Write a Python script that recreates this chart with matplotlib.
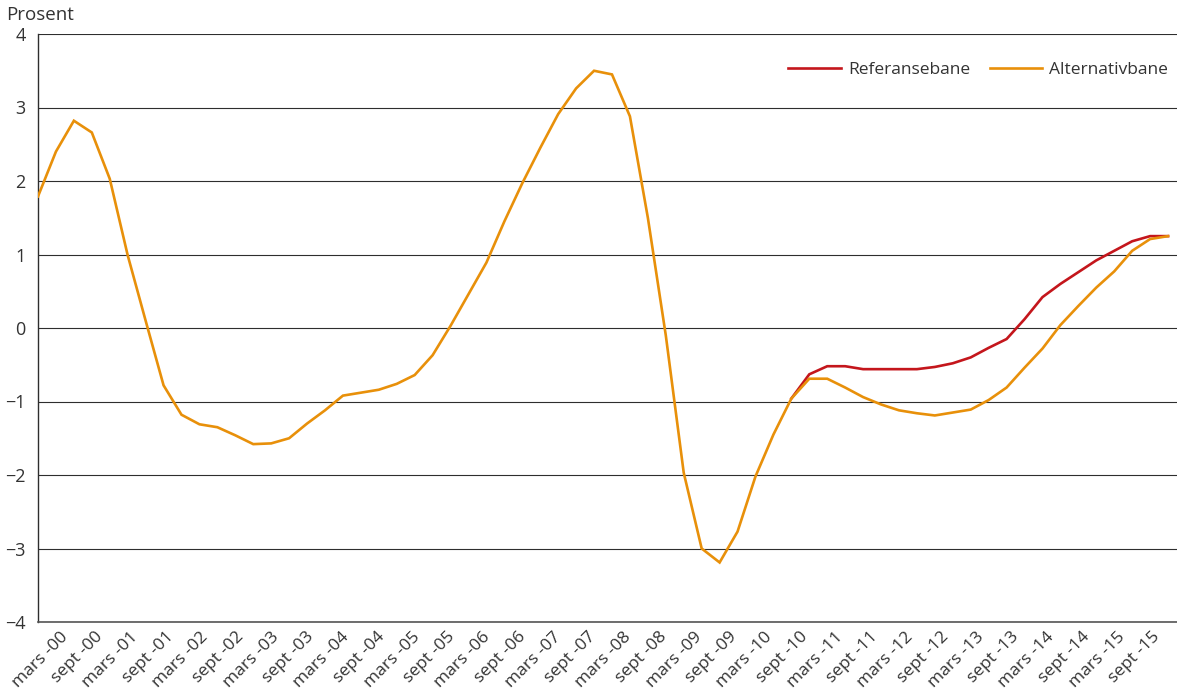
import matplotlib
matplotlib.use("Agg")
import matplotlib.pyplot as plt
import numpy as np

plt.rcParams["font.family"] = ["Open Sans", "DejaVu Sans"]

# Quarterly observations, 2000 Q1 - 2015 Q4
alternativbane = [
    1.79, 2.40, 2.82, 2.66, 2.03, 0.99, 0.10, -0.78,
    -1.18, -1.31, -1.35, -1.46, -1.58, -1.57, -1.50, -1.30,
    -1.12, -0.92, -0.88, -0.84, -0.76, -0.64, -0.37, 0.03,
    0.46, 0.89, 1.45, 1.97, 2.45, 2.91, 3.26, 3.50,
    3.45, 2.88, 1.50, -0.10, -1.97, -3.00, -3.19, -2.77,
    -2.02, -1.45, -0.96, -0.69, -0.69, -0.81, -0.94, -1.04,
    -1.12, -1.16, -1.19, -1.15, -1.11, -0.98, -0.81, -0.54,
    -0.28, 0.04, 0.30, 0.55, 0.77, 1.05, 1.21, 1.25,
]
# Reference path, 2010 Q3 - 2015 Q4
referansebane = [
    -0.96, -0.63, -0.52, -0.52, -0.56, -0.56, -0.56, -0.56,
    -0.53, -0.48, -0.40, -0.27, -0.15, 0.12, 0.42, 0.60,
    0.76, 0.92, 1.05, 1.18, 1.25, 1.25,
]
years = list(range(2000, 2016))
months = ["mars", "sept"]
tick_labels = [f"{m} -{y % 100:02d}" for y in years for m in months]
yticks = [-4, -3, -2, -1, 0, 1, 2, 3, 4]

RED = "#C4161C"
ORANGE = "#E8900A"
GRID = "#2e2e2e"
TEXT = "#333333"

n = len(alternativbane)
x_alt = np.arange(n)
x_ref = np.arange(n - len(referansebane), n)

fig = plt.figure(figsize=(11.77, 6.99), dpi=100)
ax = fig.add_axes([38 / 1177, 1 - 622 / 699, 1 - 38 / 1177, (622 - 34) / 699])

for y in yticks:
    ax.axhline(y, color=GRID, lw=0.8, zorder=1)

ax.plot(x_ref, referansebane, color=RED, lw=1.9, label="Referansebane",
        solid_joinstyle="miter", zorder=3)
ax.plot(x_alt, alternativbane, color=ORANGE, lw=1.9, label="Alternativbane",
        solid_joinstyle="miter", zorder=4)

ax.set_xlim(0, n - 1 + 0.5)
ax.set_ylim(-4, 4)
ax.set_yticks(yticks)
ax.set_yticklabels([f"{v}".replace("-", "\u2212") for v in yticks])

# category labels are spread slightly inward so the first one stays inside
label_pos = np.linspace(1.2, n - 1.9, len(tick_labels))
ax.set_xticks(label_pos)
ax.set_xticklabels(tick_labels, rotation=45, ha="right",
                   rotation_mode="anchor")

for s in ["top", "right"]:
    ax.spines[s].set_visible(False)
ax.spines["left"].set_color(GRID)
ax.spines["left"].set_linewidth(1.0)
ax.spines["bottom"].set_color("#555555")
ax.spines["bottom"].set_linewidth(1.2)

ax.tick_params(axis="both", length=0, colors=TEXT)
ax.tick_params(axis="y", pad=9, labelsize=13)
ax.tick_params(axis="x", pad=5, labelsize=12.5)

fig.text(6 / 1177, 1 - 15 / 699, "Prosent", fontsize=13.5, color=TEXT,
         va="center", ha="left")

leg = ax.legend(loc="upper right", bbox_to_anchor=(1.0, 0.968), ncol=2,
                frameon=False, fontsize=12.5, handlelength=3.0,
                columnspacing=1.1, handletextpad=0.45, borderaxespad=0.1,
                labelcolor=TEXT)

fig.savefig("out.png", dpi=100)
